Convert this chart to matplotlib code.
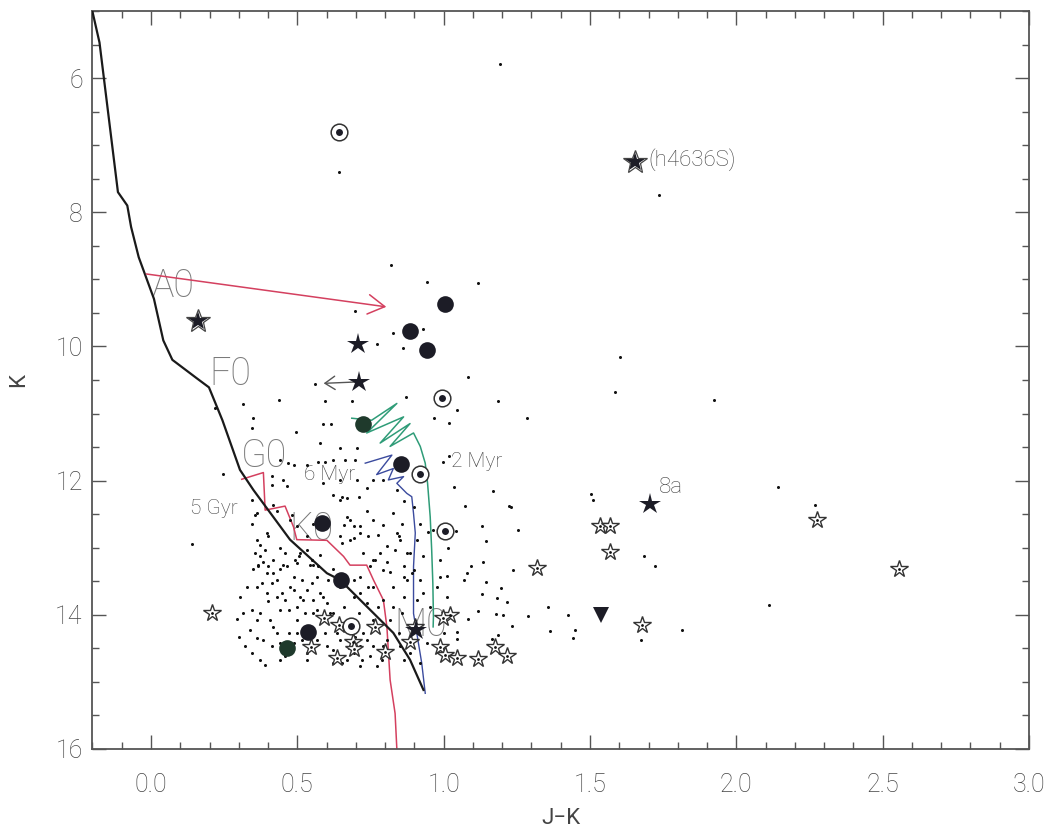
import matplotlib
matplotlib.use("Agg")
import matplotlib.pyplot as plt
from matplotlib.ticker import MultipleLocator, FormatStrFormatter

plt.rcParams["font.family"] = ["Roboto", "DejaVu Sans"]
plt.rcParams["font.weight"] = "light"

# ---- curves (J-K, K) ----
zams_jk = [-0.200, -0.176, -0.113, -0.081, -0.068, -0.042, 0.010, 0.042, 0.073, 0.158,
           0.198, 0.244, 0.304, 0.350, 0.475, 0.601, 0.646, 0.828, 0.885, 0.931]
zams_k = [5.01, 5.47, 7.70, 7.90, 8.22, 8.67, 9.29, 9.91, 10.20, 10.48,
          10.61, 11.10, 11.84, 12.14, 12.88, 13.38, 13.48, 14.27, 14.67, 15.12]

gyr5_jk = [0.310, 0.384, 0.390, 0.458, 0.487, 0.498, 0.601, 0.658, 0.680, 0.737,
           0.760, 0.794, 0.806, 0.817, 0.834, 0.840]
gyr5_k = [11.98, 11.88, 12.44, 12.38, 12.69, 12.88, 12.89, 13.13, 13.26, 13.26,
          13.48, 13.78, 14.18, 14.97, 15.47, 16.00]

myr2_jk = [0.686, 0.754, 0.840, 0.737, 0.863, 0.783, 0.885, 0.817, 0.897, 0.920,
           0.937, 0.945, 0.954, 0.959, 0.963, 0.965, 0.964]
myr2_k = [11.07, 11.10, 10.85, 11.29, 11.05, 11.44, 11.15, 11.49, 11.29, 11.49,
          11.74, 12.04, 12.54, 13.03, 13.53, 14.03, 14.18]

myr6_jk = [0.732, 0.823, 0.771, 0.828, 0.811, 0.863, 0.840, 0.874, 0.891, 0.897,
           0.903, 0.897, 0.897, 0.908, 0.925, 0.937]
myr6_k = [11.74, 11.62, 11.91, 11.82, 11.99, 11.94, 12.04, 12.19, 12.24, 12.49,
          12.78, 13.28, 13.98, 14.27, 14.72, 15.17]

# ---- field stars (small dots) ----
dots_jk = [
    1.192, 0.643, 1.737, 0.819, 0.942, 1.119, 0.698, 0.826, 0.928, 0.771, 0.860, 1.603,
    1.082, 0.559, 1.587, 0.870, 1.185, 1.925, 0.436, 0.316, 0.595, 0.686, 0.219, 1.044,
    0.966, 0.350, 1.286, 1.017, 0.344, 0.496, 0.589, 0.614, 0.703, 0.997,
    0.595, 0.623, 0.413, 0.452, 0.464, 0.589, 0.646, 0.737, 0.487, 0.578, 0.441, 0.697,
    0.760, 1.017, 1.034,
    0.344, 0.418, 0.430, 0.475, 0.498, 0.646, 0.669, 0.680, 0.737, 0.777, 0.840, 0.857,
    0.897, 0.139, 0.356, 0.715, 0.794, 0.623, 0.760,
    0.390, 0.458, 0.509, 0.532, 0.578, 0.652, 0.680, 0.726, 0.760, 0.806, 0.851, 0.885,
    0.931, 0.988, 0.350, 0.384, 0.418, 0.441, 0.487, 0.566, 0.623, 0.715, 0.794, 0.863,
    0.897, 0.988, 0.373, 0.544, 0.783, 0.834,
    0.304, 0.395, 0.430, 0.458, 0.487, 0.532, 0.555, 0.601, 0.692, 0.715, 0.760, 0.794,
    0.828, 0.863, 0.908, 1.011, 0.361, 0.413, 0.509, 0.578, 0.737, 0.931, 0.293, 0.344,
    0.373, 0.407, 0.441, 0.498, 0.527, 0.566, 0.612,
    0.338, 0.361, 0.384, 0.321, 0.430, 0.441, 0.487, 0.566, 0.601, 0.646, 0.715, 0.737,
    0.749, 0.771, 0.806, 0.851, 0.885, 0.942, 0.390, 0.441, 0.532, 0.623, 0.669, 0.715,
    0.498, 0.692, 0.920,
    1.504, 2.144, 2.270, 1.222, 1.813, 2.110, 1.168,
    1.072, 1.229, 1.130, 1.253, 1.041, 1.143, 1.014, 1.133, 1.092, 1.236, 1.078, 1.010,
    1.068, 1.143, 1.195, 1.130, 1.181, 1.215, 1.356, 1.119, 1.178, 1.202, 1.287, 1.424,
    1.082, 1.232, 1.362, 1.448, 1.441, 1.044, 1.000, 1.044, 1.164, 1.185, 1.673, 1.684,
    1.721, 1.510,
    # denser part of the cluster
    0.245, 0.469, 0.413, 0.532, 0.572, 0.646, 0.663, 0.703, 0.481, 0.652, 0.669, 0.709,
    0.794, 0.840, 0.863, 0.344, 0.361, 0.373, 0.401, 0.441, 0.504, 0.549, 0.646, 0.658,
    0.692, 0.715, 0.743, 0.846, 0.908, 0.948, 0.367, 0.401, 0.452, 0.498, 0.555, 0.749,
    0.766, 0.806, 0.817, 0.863, 0.891,
    0.356, 0.367, 0.378, 0.395, 0.401, 0.418, 0.430, 0.447, 0.464, 0.470, 0.475, 0.492,
    0.498, 0.515, 0.521, 0.538, 0.549, 0.555, 0.572, 0.589, 0.606, 0.623, 0.635, 0.646,
    0.658, 0.680, 0.692, 0.709, 0.726, 0.743, 0.760, 0.777, 0.794, 0.817, 0.828, 0.846,
    0.857, 0.874, 0.885, 0.327, 0.316, 0.299, 0.344, 0.361, 0.373, 0.413, 0.418, 0.458,
    0.470, 0.515, 0.532, 0.595, 0.623, 0.652, 0.697, 0.720, 0.760, 0.789, 0.863, 0.897,
    0.361, 0.395, 0.532, 0.555, 0.692, 0.828, 0.874, 0.920, 0.954, 0.977, 0.965, 0.920,
]
dots_k = [
    5.79, 7.40, 7.75, 8.79, 9.04, 9.06, 9.47, 9.80, 9.74, 9.96, 10.02, 10.16,
    10.45, 10.56, 10.68, 10.75, 10.81, 10.80, 10.80, 10.86, 10.82, 10.82, 10.92, 10.95,
    11.07, 11.07, 11.06, 11.14, 11.22, 11.28, 11.16, 11.15, 11.52, 11.72,
    11.72, 11.69, 11.93, 11.99, 12.08, 12.04, 11.99, 12.11, 11.77, 11.44, 11.69, 11.69,
    11.99, 11.64, 12.09,
    12.29, 12.36, 12.46, 12.59, 12.68, 12.29, 12.54, 12.59, 12.46, 12.81, 12.78, 12.64,
    12.39, 12.95, 12.51, 12.78, 12.66, 12.21, 12.59,
    13.03, 13.08, 13.08, 13.03, 13.11, 12.93, 12.88, 13.08, 13.18, 12.98, 12.88, 13.08,
    13.13, 13.18, 13.31, 13.21, 13.38, 13.31, 13.43, 13.43, 13.31, 13.43, 13.33, 13.43,
    13.33, 13.43, 13.13, 13.26, 13.08, 13.03,
    13.73, 13.68, 13.73, 13.78, 13.63, 13.63, 13.78, 13.83, 13.73, 13.68, 13.58, 13.78,
    13.88, 13.73, 13.78, 13.73, 13.58, 13.53, 13.73, 13.68, 13.83, 13.68, 14.07, 13.93,
    13.98, 14.08, 13.93, 13.88, 13.98, 13.93, 13.98,
    14.22, 14.35, 14.37, 14.47, 14.27, 14.42, 14.42, 14.37, 14.47, 14.37, 14.47, 14.37,
    14.62, 14.77, 14.37, 14.47, 14.57, 14.42, 14.75, 14.67, 14.67, 14.72, 14.67, 14.77,
    14.27, 14.57, 14.72,
    12.20, 12.09, 12.37, 12.38, 14.22, 13.85, 12.15,
    12.38, 12.39, 12.67, 12.73, 12.75, 12.90, 13.00, 13.21, 13.27, 13.33, 13.38, 13.42,
    13.48, 13.51, 13.60, 13.69, 13.75, 13.81, 13.88, 13.95, 13.99, 14.00, 14.02, 14.00,
    14.06, 14.17, 14.24, 14.22, 14.34, 14.25, 14.27, 14.36, 14.36, 14.30, 14.37, 13.12,
    13.28, 12.29,
    # denser part of the cluster
    11.90, 11.74, 12.06, 11.77, 11.72, 11.52, 11.69, 11.99, 12.51, 12.24, 12.26, 12.24,
    11.99, 12.14, 12.31, 12.64, 12.49, 12.96, 12.83, 13.01, 13.13, 13.18, 12.83, 12.66,
    12.86, 12.68, 12.83, 12.83, 12.88, 12.76, 13.26, 13.28, 13.26, 13.23, 13.26, 13.28,
    13.18, 13.21, 13.36, 13.28, 13.38,
    13.08, 13.28, 13.53, 13.38, 13.80, 13.18, 13.48, 13.68, 13.28, 13.93, 13.58, 13.18,
    14.08, 13.48, 13.78, 14.18, 13.53, 13.98, 13.28, 13.73, 13.48, 13.98, 14.27, 13.58,
    13.88, 14.18, 13.48, 13.98, 14.27, 13.58, 14.08, 13.88, 14.47, 14.08, 13.58, 14.27,
    13.98, 13.48, 14.18, 13.58, 13.98, 14.33, 14.57, 14.08, 14.67, 14.47, 14.18, 14.62,
    14.27, 14.37, 14.57, 14.27, 14.52, 14.72, 14.33, 14.67, 14.47, 14.67, 14.67, 14.37,
    12.88, 12.78, 12.83, 12.64, 12.68, 12.49, 13.08, 13.48, 13.88, 13.58, 12.74, 12.64,
]

# ---- classified sources ----
disk_jk = [1.003, 0.884, 0.942, 0.853, 0.583, 0.648, 0.535]
disk_k = [9.37, 9.77, 10.05, 11.75, 12.63, 13.48, 14.25]
disk_green_jk = [0.726, 0.463]
disk_green_k = [11.15, 14.49]

ring_jk = [0.643, 0.993, 0.918, 1.003, 0.685]
ring_k = [6.81, 10.77, 11.90, 12.75, 14.17]

filled_star_jk = [0.706, 0.710, 1.704, 0.905]
filled_star_k = [9.96, 10.53, 12.35, 14.22]
double_star_jk = [0.160, 1.653]
double_star_k = [9.62, 7.25]

open_star_jk = [0.210, 0.545, 0.590, 0.644, 0.634, 0.689, 0.692, 0.764, 0.798, 0.901,
                0.884, 1.020, 0.997, 0.986, 1.003, 1.044, 1.116, 1.174, 1.215, 1.318,
                1.534, 1.569, 1.567, 1.677, 2.274, 2.555]
open_star_k = [13.97, 14.48, 14.05, 14.15, 14.64, 14.40, 14.51, 14.18, 14.55, 14.18,
               14.40, 14.00, 14.05, 14.48, 14.60, 14.64, 14.66, 14.48, 14.61, 13.30,
               12.68, 12.68, 13.06, 14.15, 12.59, 13.32]

tri_jk = [1.536]
tri_k = [14.00]

sptypes = ["A0", "F0", "G0", "K0", "M0"]
sptype_jk = [0.075, 0.270, 0.386, 0.549, 0.920]
sptype_k = [9.11, 10.42, 11.63, 12.72, 14.15]

iso_labels = ["6 Myr", "2 Myr", "5 Gyr"]
iso_label_jk = [0.611, 1.114, 0.215]
iso_label_k = [11.91, 11.72, 12.41]

red = "#d4405f"
green = "#2f9c78"
blue = "#3b4b9e"
ink = "#1c1c26"

fig = plt.figure(figsize=(10.58, 8.31), dpi=100)
ax = fig.add_axes([0.0874, 0.0987, 0.8852, 0.8881])

ax.plot(zams_jk, zams_k, color="#1a1a1a", lw=1.6, zorder=3)
ax.plot(gyr5_jk, gyr5_k, color=red, lw=1.1, zorder=2)
ax.plot(myr2_jk, myr2_k, color=green, lw=1.1, zorder=2)
ax.plot(myr6_jk, myr6_k, color=blue, lw=1.0, zorder=2)

ax.plot(dots_jk, dots_k, "o", ms=2.2, color="#111", mew=0, zorder=4)

ax.plot(open_star_jk, open_star_k, "*", ms=13, mfc="white", mec="#333", mew=1.0, zorder=5)
ax.plot(open_star_jk, open_star_k, "o", ms=2.0, color="#111", mew=0, zorder=6)

ax.plot(disk_jk, disk_k, "o", ms=12, color=ink, mew=0, zorder=6)
ax.plot(disk_green_jk, disk_green_k, "o", ms=12, color="#1f3a2c", mew=0, zorder=6)

ax.plot(ring_jk, ring_k, "o", ms=12, mfc="white", mec="#333", mew=1.1, zorder=6)
ax.plot(ring_jk, ring_k, "o", ms=5, color=ink, mew=0, zorder=7)

ax.plot(filled_star_jk, filled_star_k, "*", ms=16, color=ink, mew=0, zorder=6)
ax.plot(double_star_jk, double_star_k, "*", ms=15, color=ink, mew=0, zorder=6)
ax.plot(double_star_jk, double_star_k, "*", ms=18, mfc="none", mec="#444", mew=0.9, zorder=7)

ax.plot(tri_jk, tri_k, "v", ms=11, color=ink, mew=0, zorder=6)

# reddening vector and upper limit arrow
ax.annotate("", xy=(0.804, 9.41), xytext=(-0.016, 8.92),
            arrowprops=dict(arrowstyle="->,head_length=0.6,head_width=0.35",
                            color=red, lw=1.1, shrinkA=0, shrinkB=0, mutation_scale=20))
ax.annotate("", xy=(0.590, 10.55), xytext=(0.700, 10.53),
            arrowprops=dict(arrowstyle="->,head_length=0.36,head_width=0.24",
                            color="#555", lw=1.0, shrinkA=0, shrinkB=0, mutation_scale=20))

for lab, x, y in zip(sptypes, sptype_jk, sptype_k):
    ax.text(x, y, lab, fontsize=27, color="#7a7a7a", ha="center", va="center", zorder=1)
for lab, x, y in zip(iso_labels, iso_label_jk, iso_label_k):
    ax.text(x, y, lab, fontsize=15, color="#444", ha="center", va="center", zorder=1)
ax.text(1.701, 7.22, "(h4636S)", fontsize=16, color="#444", ha="left", va="center")
ax.text(1.775, 12.10, "8a", fontsize=16, color="#444", ha="center", va="center")

ax.set_xlim(-0.2, 3.0)
ax.set_ylim(16, 5)
ax.xaxis.set_major_locator(MultipleLocator(0.5))
ax.xaxis.set_minor_locator(MultipleLocator(0.1))
ax.xaxis.set_major_formatter(FormatStrFormatter("%.1f"))
ax.yaxis.set_major_locator(MultipleLocator(2))
ax.yaxis.set_minor_locator(MultipleLocator(0.5))
ax.tick_params(which="both", direction="in", top=True, right=True, colors="#555",
               labelcolor="#444", width=1.0)
ax.tick_params(which="major", length=10)
ax.tick_params(which="minor", length=5)
ax.tick_params(axis="x", which="major", pad=17, labelsize=18)
ax.tick_params(axis="y", which="major", pad=7, labelsize=18)
for s in ax.spines.values():
    s.set_color("#555")
    s.set_linewidth(1.3)

ax.set_xlabel("J\u2212K", fontsize=16, color="#444", labelpad=8)
ax.set_ylabel("K", fontsize=16, color="#444", labelpad=19)

fig.savefig("out.png", dpi=100)
